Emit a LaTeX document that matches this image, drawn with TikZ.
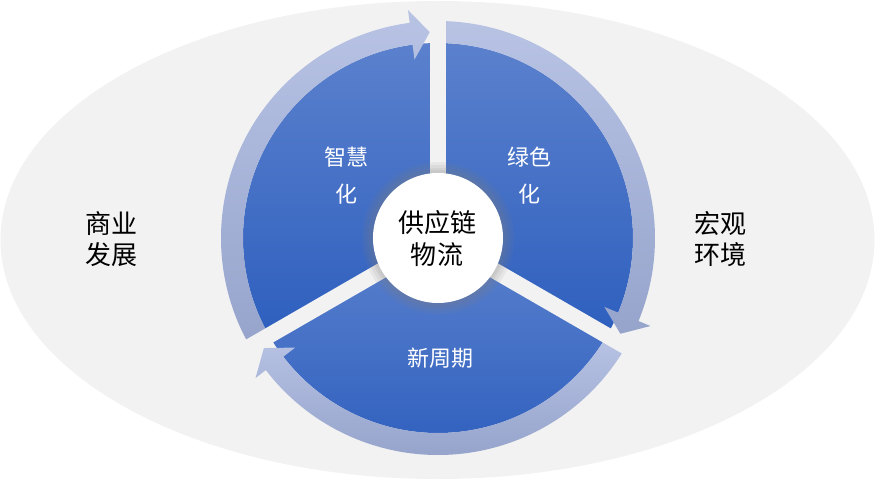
\documentclass[tikz,border=0pt]{standalone}
\usepackage{fontspec}
\setmainfont{Noto Sans CJK SC}
\definecolor{bggray}{HTML}{F2F2F2}
\definecolor{pietop}{HTML}{5B81CD}
\definecolor{piebot}{HTML}{2E5FBE}
\definecolor{ringtop}{HTML}{B8C3E4}
\definecolor{ringbot}{HTML}{96A4CC}
\tikzset{
  sector/.style={top color=pietop, bottom color=piebot, draw=none},
  ringseg/.style={top color=ringtop, bottom color=ringbot, draw=none},
  gapband/.style={fill=bggray, draw=none},
  outerlabel/.style={font=\fontsize{26}{31.5}\selectfont, text=black, align=center, inner sep=0pt},
  innerlabel/.style={font=\fontsize{22}{37}\selectfont, text=white, align=center, inner sep=0pt},
  hublabel/.style={font=\fontsize{26}{32}\selectfont, text=black, align=center, inner sep=0pt}
}
\begin{document}
\begin{tikzpicture}[x=1pt,y=1pt]
\useasboundingbox (-438,-241) rectangle (437,238);
% background ellipse
\fill[bggray] (-0.5,-2) ellipse [x radius=437, y radius=239];
% pie sectors
\path[sector] (0,0) -- (90:195) arc[start angle=90, end angle=-30, radius=195] -- cycle;
\path[sector] (0,0) -- (-30:195) arc[start angle=-30, end angle=-150, radius=195] -- cycle;
\path[sector] (0,0) -- (210:195) arc[start angle=210, end angle=90, radius=195] -- cycle;
% ring arrow segments (clockwise)
\path[ringseg] (210:217) arc[start angle=210, end angle=97.5, radius=217]
  -- (97.5:230) -- (92.3:206) -- (97.5:180) -- (97.5:195)
  arc[start angle=97.5, end angle=210, radius=195] -- cycle;
\path[ringseg] (90:217) arc[start angle=90, end angle=-22.5, radius=217]
  -- (-22.5:230) -- (-27.7:206) -- (-22.5:180) -- (-22.5:195)
  arc[start angle=-22.5, end angle=90, radius=195] -- cycle;
\path[ringseg] (-30:217) arc[start angle=-30, end angle=-142.5, radius=217]
  -- (-142.5:230) -- (-147.7:206) -- (-142.5:180) -- (-142.5:195)
  arc[start angle=-142.5, end angle=-30, radius=195] -- cycle;
% gaps
\foreach \a in {90,-30,210}{
  \fill[gapband, rotate=\a] (0,-8) rectangle (233,8);
}
% hub shadow and hub
\foreach \r in {76,73,70,68}{
  \fill[gray, opacity=0.10] (0,0) circle (\r);
}
\node[circle, fill=white, minimum size=130pt, inner sep=0pt] (hub) at (0,0) {};
% labels
\node[hublabel] (hubtext) at (-1,-0.5) {供应链\\物流};
\node[innerlabel] (smart) at (-91,62.5) {智慧\\化};
\node[innerlabel] (green) at (91.5,62.5) {绿色\\化};
\node[innerlabel] (cycle) at (2,-120) {新周期};
\node[outerlabel] (biz) at (-326.5,-1.25) {商业\\发展};
\node[outerlabel] (macro) at (282,-1.25) {宏观\\环境};
\end{tikzpicture}
\end{document}
